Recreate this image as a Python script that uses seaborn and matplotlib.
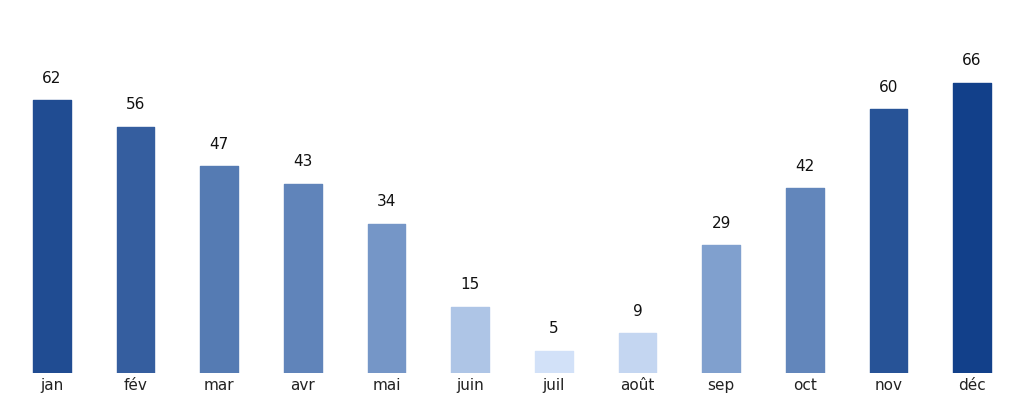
import pandas as pd
import seaborn as sns
import matplotlib.pyplot as plt
from matplotlib.colors import LinearSegmentedColormap, Normalize


months = ['jan', 'fév', 'mar', 'avr', 'mai', 'juin', 'juil', 'août', 'sep', 'oct', 'nov', 'déc']
values = [62, 56, 47, 43, 34, 15, 5, 9, 29, 42, 60, 66]

df = pd.DataFrame({'mois': months, 'valeur': values})

# colour follows the value: pale blue for low, deep blue for high
cmap = LinearSegmentedColormap.from_list('blues', ['#d2e1f8', '#88a7d3', '#5a7fb6', '#12408a'])
norm = Normalize(vmin=min(values), vmax=max(values))
palette = [cmap(norm(v)) for v in values]

sns.set_style('white')

fig = plt.figure(figsize=(10.24, 4.04), dpi=100)
ax = fig.add_axes([0.01, 0.077, 0.98, 0.87])

sns.barplot(data=df, x='mois', y='valeur', hue='mois', palette=palette,
            width=0.45, legend=False, ax=ax, saturation=1)

for bar in ax.patches:
    bar.set_edgecolor(bar.get_facecolor())
    bar.set_linewidth(1.0)
    bar.set_joinstyle('round')

for i, v in enumerate(values):
    ax.text(i, v + 3.3, str(v), ha='center', va='bottom', fontsize=11, color='#111111')

ax.set_xlim(-0.5, len(months) - 0.5)
ax.set_ylim(0, 80)
ax.set_xlabel('')
ax.set_ylabel('')
ax.set_yticks([])
ax.tick_params(axis='x', length=0, labelsize=11, pad=4, colors='#222222')
sns.despine(ax=ax, left=True, bottom=True)

fig.savefig('out.png', dpi=100)
